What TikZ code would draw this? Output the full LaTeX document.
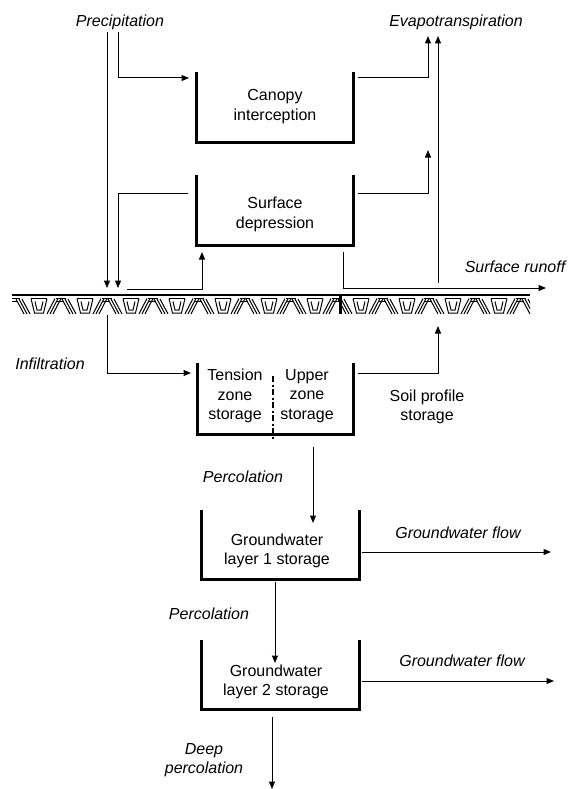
\documentclass[tikz,border=0pt]{standalone}
\usepackage{fontspec}
\setmainfont{Liberation Sans}
\usetikzlibrary{arrows.meta,calc}
\begin{document}
\begin{tikzpicture}[x=1pt,y=-1pt,
  flow/.style={line width=1pt,-{Triangle[length=7.5pt,width=6pt]}},
  plain/.style={line width=1pt},
  wall/.style={line width=3.2pt,line join=miter},
  lbl/.style={font=\fontsize{16}{19}\selectfont\itshape,inner sep=0pt,align=center},
  txt/.style={font=\fontsize{16}{19.5}\selectfont,inner sep=0pt,align=center},
  store/.style={inner sep=0pt,draw=none},
  hatch/.style={line width=1pt}
]
\useasboundingbox (0,0) rectangle (576,789);

% ---------- storage boxes (open-top U shapes) ----------
\node[store,minimum width=156pt,minimum height=70pt] (canopy) at (275,107) {};
\node[store,minimum width=156pt,minimum height=70pt] (sdep)   at (275,210) {};
\node[store,minimum width=155pt,minimum height=71pt] (soil)   at (275.5,398.5) {};
\node[store,minimum width=157pt,minimum height=69pt] (gw1)    at (280.5,544.5) {};
\node[store,minimum width=157pt,minimum height=69pt] (gw2)    at (280.5,674.5) {};

\foreach \b in {canopy,sdep,soil,gw1,gw2}
  \draw[wall] (\b.north west) -- (\b.south west) -- (\b.south east) -- (\b.north east);

\draw[line width=2pt,dash pattern=on 6pt off 2.5pt on 2pt off 2.5pt] (273,376) -- (273,439);

% ---------- box texts ----------
\node[txt] (tcanopy) at (275,106.5) {Canopy\\interception};
\node[txt] (tsdep)   at (275,214.5) {Surface\\depression};
\node[txt] (ttens)   at (235,396) {Tension\\zone\\storage};
\node[txt] (tupper)  at (307,396) {Upper\\zone\\storage};
\node[txt] (tgw1)    at (277,551) {Groundwater\\layer 1 storage};
\node[txt] (tgw2)    at (276,682) {Groundwater\\layer 2 storage};

% ---------- flow labels ----------
\node[lbl] (prec)   at (120,22)  {Precipitation};
\node[lbl] (evap)   at (456,22)  {Evapotranspiration};
\node[lbl] (runoff) at (515,267) {Surface runoff};
\node[lbl] (infil)  at (50,364)  {Infiltration};
\node[txt] (soilst) at (427,407) {Soil profile\\storage};
\node[lbl] (perc1)  at (243,477) {Percolation};
\node[lbl] (perc2)  at (209,614) {Percolation};
\node[lbl] (gwf1)   at (458,533) {Groundwater flow};
\node[lbl] (gwf2)   at (462,661) {Groundwater flow};
\node[lbl] (deep)   at (204,760) {Deep\\percolation};

% ---------- ground surface ----------
\node[store,minimum width=518pt,minimum height=18pt] (ground) at (271,304) {};
\draw[line width=2pt] (ground.north west) -- (ground.north east);
\begin{scope}
  \clip (12,296) rectangle (530,315);
  \foreach \x in {12,58,...,560}{
    % double top bars and back-slanted strokes
    \draw[hatch] (\x-2,298.5) -- (\x+8,298.5) (\x-2,301.5) -- (\x+6,301.5);
    \draw[hatch] (\x+4,299) -- (\x+12,314) (\x+7,299) -- (\x+15,314) (\x+10,299) -- (\x+18,314);
    % trapezoid (double outline)
    \draw[hatch] (\x+19,298.5) -- (\x+35,298.5);
    \draw[hatch] (\x+19,298.5) -- (\x+22.5,313) -- (\x+31.5,313) -- (\x+35,298.5);
    \draw[hatch] (\x+23,301.5) -- (\x+25,310) -- (\x+29,310) -- (\x+31,301.5);
    % forward-slanted strokes
    \draw[hatch] (\x+35,314) -- (\x+43,298.5) (\x+38,314) -- (\x+46,298.5) (\x+41,314) -- (\x+49,298.5);
  }
\end{scope}
\draw[line width=3pt] (340,295) -- (340,314);

% ---------- named points ----------
\coordinate (pA0) at (107,32);  \coordinate (pA1) at (107,288);
\coordinate (pB0) at (118,32);  \coordinate (pB1) at (118,78);  \coordinate (pB2) at (189,78);
\coordinate (eC0) at (358,78);  \coordinate (eC1) at (428,78);  \coordinate (eC2) at (428,36);
\coordinate (eR0) at (438,283); \coordinate (eR1) at (438,36);
\coordinate (eS0) at (358,193); \coordinate (eS1) at (428,193); \coordinate (eS2) at (428,150);
\coordinate (dS0) at (188,193); \coordinate (dS1) at (118,193); \coordinate (dS2) at (118,288);
\coordinate (gS0) at (127,289); \coordinate (gS1) at (202,289); \coordinate (gS2) at (202,252);
\coordinate (rS0) at (343,252); \coordinate (rS1) at (343,288); \coordinate (rS2) at (546,288);
\coordinate (iF0) at (107,315); \coordinate (iF1) at (107,373); \coordinate (iF2) at (191,373);
\coordinate (sU0) at (358,373); \coordinate (sU1) at (438,373); \coordinate (sU2) at (438,326);
\coordinate (pC0) at (313,447); \coordinate (pC1) at (313,523);
\coordinate (pD0) at (275,582); \coordinate (pD1) at (275,663);
\coordinate (gF0) at (362,552); \coordinate (gF1) at (551,552);
\coordinate (gG0) at (362,681); \coordinate (gG1) at (554,681);
\coordinate (dP0) at (272,717); \coordinate (dP1) at (272,789);

% ---------- connectors ----------
\draw[flow] (pA0) -- (pA1);
\draw[flow] (pB0) -- (pB1) -- (pB2);
\draw[flow] (eC0) -- (eC1) -- (eC2);
\draw[flow] (eR0) -- (eR1);
\draw[flow] (eS0) -- (eS1) -- (eS2);
\draw[flow] (dS0) -- (dS1) -- (dS2);
\draw[flow] (gS0) -- (gS1) -- (gS2);
\draw[flow] (rS0) -- (rS1) -- (rS2);
\draw[flow] (iF0) -- (iF1) -- (iF2);
\draw[flow] (sU0) -- (sU1) -- (sU2);
\draw[flow] (pC0) -- (pC1);
\draw[flow] (pD0) -- (pD1);
\draw[flow] (gF0) -- (gF1);
\draw[flow] (gG0) -- (gG1);
\draw[flow] (dP0) -- (dP1);
\end{tikzpicture}
\end{document}
